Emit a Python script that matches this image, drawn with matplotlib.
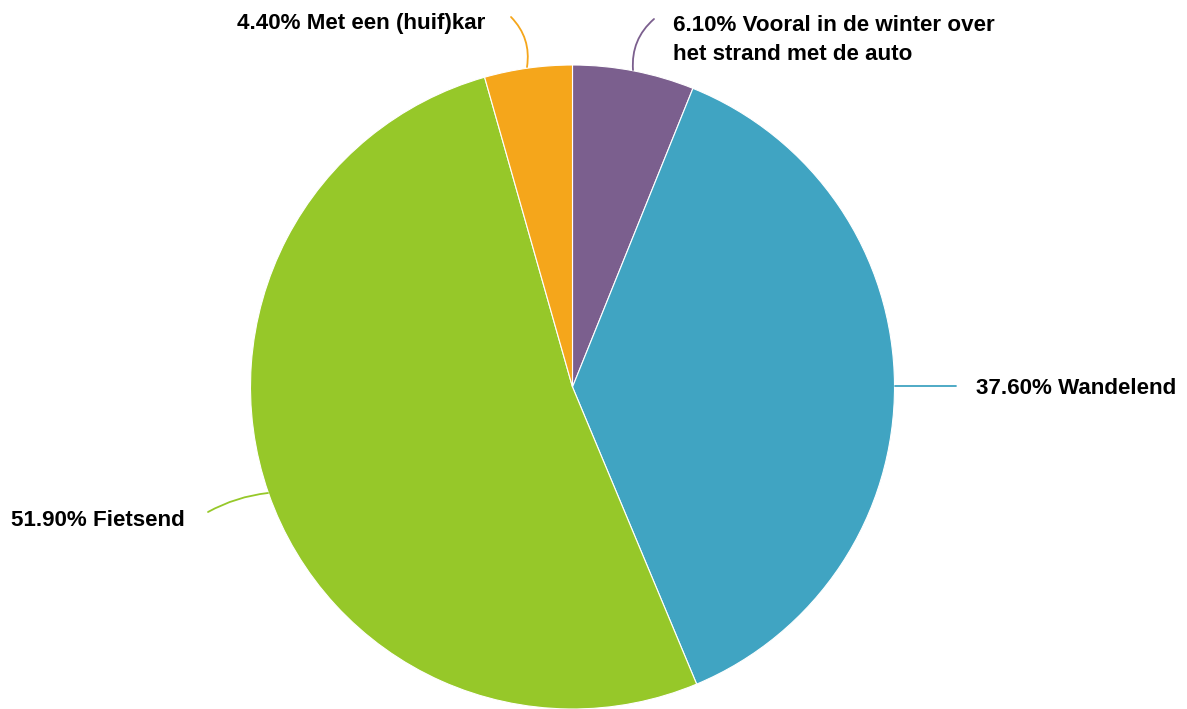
import matplotlib
matplotlib.use("Agg")
import matplotlib.pyplot as plt

labels = ["Vooral in de winter over\nhet strand met de auto", "Wandelend", "Fietsend", "Met een (huif)kar"]
values = [6.10, 37.60, 51.90, 4.40]
colors = ["#7B5F8E", "#40A4C2", "#96C829", "#F5A61B"]

W, H = 1187, 709
fig = plt.figure(figsize=(W / 100, H / 100), dpi=100)
ax = fig.add_axes([0, 0, 1, 1])

cx, cy, r = 572.5, H - 387, 322
wedges, _ = ax.pie(values, colors=colors, startangle=90, counterclock=False,
                   center=(cx, cy), radius=r, frame=True,
                   wedgeprops=dict(edgecolor="white", linewidth=0.8))
ax.set_xlim(0, W)
ax.set_ylim(0, H)
ax.set_aspect("equal")
ax.axis("off")

font = dict(family="Liberation Sans", weight="bold", size=16.1, color="black")

def y(v):
    return H - v

ann = [
    (f"{values[0]:.2f}% " + labels[0], (673, y(40)), "left", "center", (633, y(70)), (654, y(19)), -0.25, colors[0]),
    (f"{values[1]:.2f}% " + labels[1], (976, y(389)), "left", "center", (895, y(386)), (956, y(386)), 0.0, colors[1]),
    (f"{values[2]:.2f}% " + labels[2], (11, y(520)), "left", "center", (268, y(493)), (208, y(512)), 0.1, colors[2]),
    (f"{values[3]:.2f}% " + labels[3], (237, y(23)), "left", "center", (527, y(67)), (511, y(17)), 0.25, colors[3]),
]
for txt, pos, ha, va, p0, p1, rad, col in ann:
    ax.text(pos[0], pos[1], txt, ha=ha, va=va, linespacing=1.45, **font)
    ax.annotate("", xy=p1, xytext=p0,
                arrowprops=dict(arrowstyle="-", color=col, lw=1.3,
                                connectionstyle=f"arc3,rad={rad}",
                                shrinkA=0, shrinkB=0))

fig.savefig("out.png", dpi=100)
